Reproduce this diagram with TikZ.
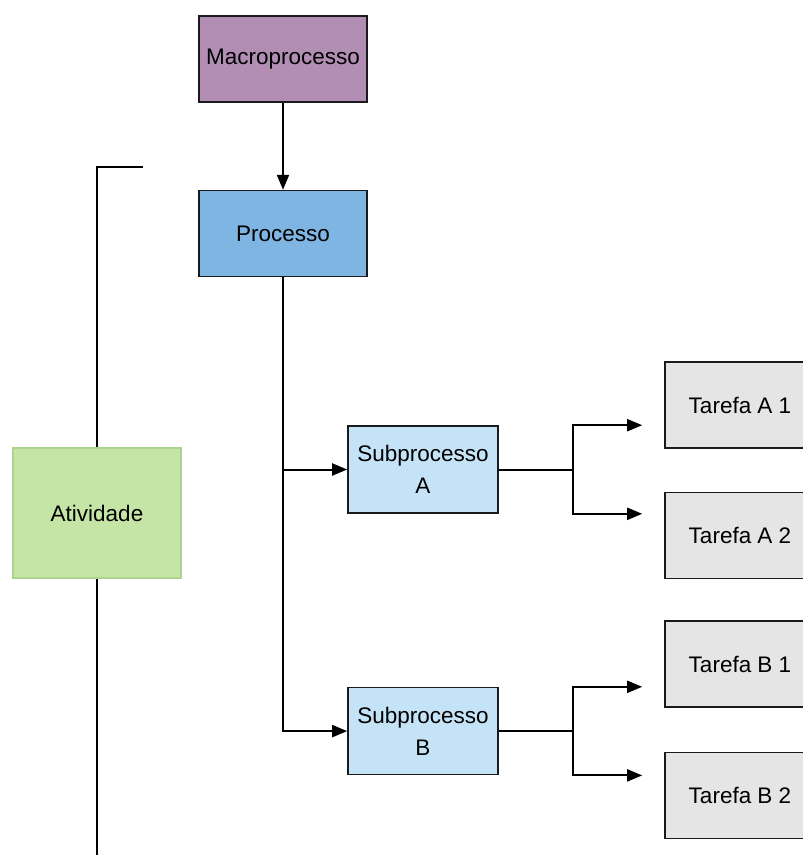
\documentclass[tikz,border=0pt]{standalone}
\usepackage{fontspec}
\setmainfont{Liberation Sans}
\usetikzlibrary{positioning, arrows.meta}
\definecolor{boxline}{RGB}{25,25,30}
\definecolor{macrofill}{RGB}{178,142,180}
\definecolor{procfill}{RGB}{126,181,227}
\definecolor{subfill}{RGB}{197,227,246}
\definecolor{tarefafill}{RGB}{229,229,229}
\definecolor{ativfill}{RGB}{197,229,166}
\definecolor{ativline}{RGB}{170,213,140}
\tikzstyle{box} = [rectangle, draw=boxline, line width=1.6pt, inner sep=0pt, align=center, font=\fontsize{22.5}{32}\selectfont]
\tikzstyle{macrobox} = [box, fill=macrofill, minimum width=168pt, minimum height=86pt]
\tikzstyle{procbox} = [box, fill=procfill, minimum width=168pt, minimum height=86pt]
\tikzstyle{subbox} = [box, fill=subfill, minimum width=150pt, minimum height=87pt]
\tikzstyle{tarefabox} = [box, fill=tarefafill, minimum width=150pt, minimum height=86pt]
\tikzstyle{ativbox} = [box, draw=ativline, fill=ativfill, minimum width=168pt, minimum height=130pt]
\tikzstyle{arrow} = [line width=2pt, -{Triangle[length=15pt, width=12pt]}]
\tikzstyle{link} = [line width=2pt]

\begin{document}
\begin{tikzpicture}[x=1pt, y=1pt]
  \useasboundingbox (0,0) rectangle (803,-855);

  % Process chain (centre column)
  \node (macro) [macrobox] at (283,-59) {Macroprocesso};
  \node (proc) [procbox, below=87pt of macro] {Processo};
  \node (subA) [subbox] at (423,-469.5) {Subprocesso\\A};
  \node (subB) [subbox, below=173pt of subA] {Subprocesso\\B};

  % Tasks (right column)
  \node (tarA1) [tarefabox] at (740,-405) {Tarefa A 1};
  \node (tarA2) [tarefabox, below=43pt of tarA1] {Tarefa A 2};
  \node (tarB1) [tarefabox] at (740,-664) {Tarefa B 1};
  \node (tarB2) [tarefabox, below=44pt of tarB1] {Tarefa B 2};

  % Activity (left side)
  \node (ativ) [ativbox] at (97,-513) {Atividade};
  \coordinate (bracket) at (143,-167);
  \coordinate (bottom) at (97,-855);

  % Fork points
  \coordinate (forkA) at ([xshift=74pt]subA.east);
  \coordinate (forkB) at ([xshift=74pt]subB.east);

  % Arrows - main flow
  \draw[arrow] (macro) -- (proc);
  \draw[arrow] (proc.south) |- (subB.west);
  \draw[arrow] (proc.south |- subA.west) -- (subA.west);

  % Arrows - tasks
  \draw[link] (subA.east) -- (forkA);
  \draw[arrow, shorten >=22pt] (forkA) |- (tarA1.west |- subA.north);
  \draw[arrow, shorten >=22pt] (forkA) |- (tarA2.west |- subA.south);
  \draw[link] (subB.east) -- (forkB);
  \draw[arrow, shorten >=22pt] (forkB) |- (tarB1.west |- subB.north);
  \draw[arrow, shorten >=22pt] (forkB) |- (tarB2.west |- subB.south);

  % Activity bracket
  \draw[link] (bracket) -| (ativ.north);
  \draw[link] (ativ.south) -- (bottom);

\end{tikzpicture}
\end{document}
